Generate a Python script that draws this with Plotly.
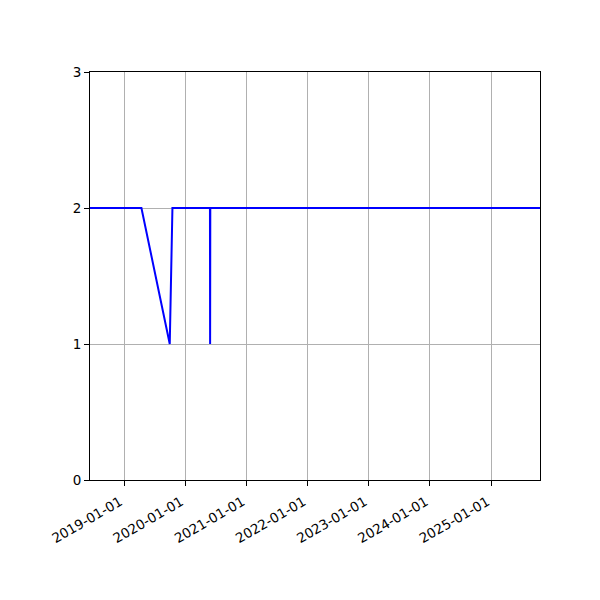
import plotly.graph_objects as go

dates = ["2018-06-12", "2019-04-15", "2019-10-01", "2019-10-17",
         "2020-05-28", "2020-05-29", "2020-05-30", "2025-10-19"]
values = [2, 2, 1, 2, 2, 1, 2, 2]
tick_dates = ["2019-01-01", "2020-01-01", "2021-01-01", "2022-01-01",
              "2023-01-01", "2024-01-01", "2025-01-01"]
y_ticks = [0, 1, 2, 3]

fig = go.Figure()
fig.add_trace(go.Scatter(x=dates, y=values, mode="lines",
                         line=dict(color="#0000ff", width=2), showlegend=False))

axis_common = dict(showline=True, mirror=True, linecolor="black", linewidth=1,
                   showgrid=True, gridcolor="#b0b0b0", gridwidth=1,
                   ticks="outside", ticklen=5, tickcolor="black", tickwidth=1,
                   zeroline=False,
                   tickfont=dict(family="DejaVu Sans", size=13.5, color="black"))

fig.update_layout(
    width=600, height=600,
    margin=dict(l=82, r=68, t=64, b=128),
    paper_bgcolor="white", plot_bgcolor="white",
    xaxis=dict(type="date", range=[dates[0], dates[-1]],
               tickvals=tick_dates, ticktext=tick_dates, tickangle=-30,
               ticklabelshift=-4, ticklabelstandoff=3,
               **axis_common),
    yaxis=dict(range=[0, 3], tickvals=y_ticks, ticktext=[str(v) for v in y_ticks],
               **axis_common),
)
fig.write_html("out.html")
